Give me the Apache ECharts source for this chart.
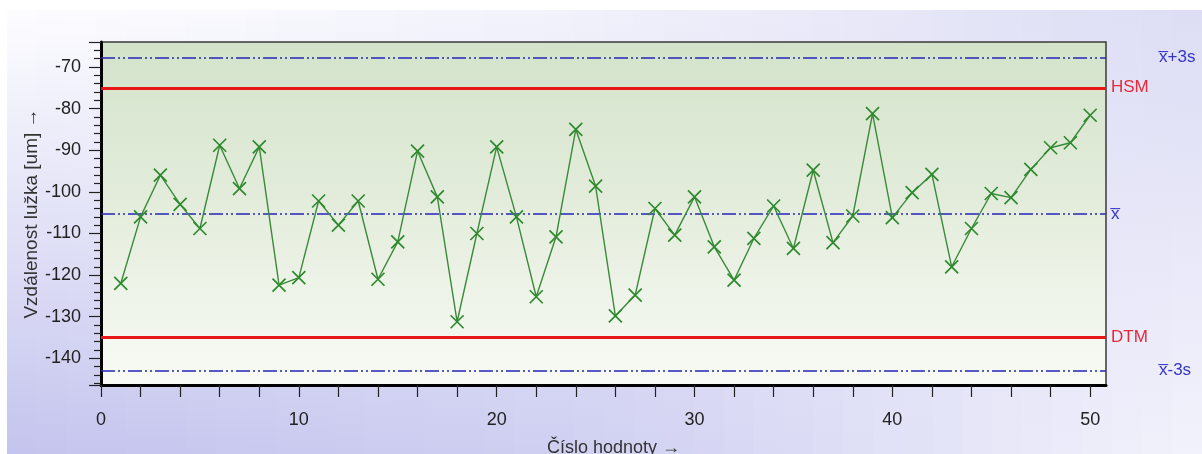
<!DOCTYPE html>
<html>
<head>
<meta charset="utf-8">
<script src="https://cdn.jsdelivr.net/npm/echarts@6/dist/echarts.min.js"></script>
<style>
html,body{margin:0;padding:0;background:#fff;}
#c{width:1202px;height:454px;}
</style>
</head>
<body>
<div id="c"></div>
<script>
// Sample numbers (x axis)
const sampleNumbers = Array.from({length: 50}, (_, i) => i + 1);
// Measured values [um]
const values = [
  -122.0, -106.0, -96.0, -103.0, -108.8, -88.8, -99.2, -89.2, -122.4, -120.6,
  -102.2, -108.0, -102.2, -121.0, -112.0, -90.2, -101.2, -131.2, -110.0, -89.2,
  -106.0, -125.2, -110.8, -85.0, -98.6, -129.8, -124.8, -104.0, -110.4, -101.2,
  -113.2, -121.2, -111.2, -103.4, -113.6, -94.8, -112.2, -105.8, -81.2, -106.2,
  -100.2, -95.8, -118.0, -108.8, -100.4, -101.4, -94.6, -89.4, -88.2, -81.6
];
// Limit lines
const limitNames = ['x\u0305+3s', 'HSM', 'x\u0305', 'DTM', 'x\u0305-3s'];
const limitValues = [-67.7, -75.0, -105.3, -135.0, -142.9];
const limitKinds = ['sigma', 'spec', 'mean', 'spec', 'sigma'];

const FONT = '"Liberation Sans", Arial, sans-serif';
const BLUE = '#2424b8';
const BLUE_TXT = '#3535c8';
const RED = '#e81818';
const RED_TXT = '#e8283c';

// decorative page background: vertical-gradient strips blended across the width
function hex(c) { return [parseInt(c.slice(1,3),16), parseInt(c.slice(3,5),16), parseInt(c.slice(5,7),16)]; }
function mix(a, b, t) { const A = hex(a), B = hex(b); return 'rgb(' + A.map((v, i) => Math.round(v + (B[i] - v) * t)).join(',') + ')'; }
const bgCols = [ // [top, bottom] at left, middle, right
  ['#fdfdff', '#c4c4ee'],
  ['#f1f1fb', '#d0d0f2'],
  ['#dcdcf5', '#f3f3fc']
];
const bgGraphics = [];
const NS = 40, X0 = 7, Y0 = 10, W = 1202 - X0, H = 454 - Y0;
for (let s = 0; s < NS; s++) {
  const t = (s + 0.5) / NS;
  let top, bot;
  if (t < 0.5) { top = mix(bgCols[0][0], bgCols[1][0], t * 2); bot = mix(bgCols[0][1], bgCols[1][1], t * 2); }
  else { top = mix(bgCols[1][0], bgCols[2][0], (t - 0.5) * 2); bot = mix(bgCols[1][1], bgCols[2][1], (t - 0.5) * 2); }
  bgGraphics.push({
    type: 'rect', z: -10, silent: true,
    shape: {x: X0 + Math.floor(s * W / NS), y: Y0, width: Math.ceil(W / NS) + 1, height: H},
    style: {fill: new echarts.graphic.LinearGradient(0, 0, 0, 1, [{offset: 0, color: top}, {offset: 1, color: bot}])}
  });
}

const markData = limitValues.map((v, i) => {
  const k = limitKinds[i];
  const isSpec = k === 'spec';
  return {
    yAxis: v,
    lineStyle: isSpec
      ? {color: RED, width: 3, type: 'solid'}
      : {color: BLUE, width: 1.5, type: [14, 3, 2, 3, 2, 3]},
    label: {
      show: true,
      position: 'end',
      formatter: limitNames[i],
      distance: k === 'sigma' ? 53 : 5,
      color: isSpec ? RED_TXT : BLUE_TXT,
      fontFamily: FONT,
      fontSize: 17
    }
  };
});

const chart = echarts.init(document.getElementById('c'), null, {renderer: 'canvas'});
chart.setOption({
  animation: false,
  backgroundColor: '#ffffff',
  graphic: bgGraphics,
  grid: {
    left: 101, right: 96, top: 42, bottom: 69,
    containLabel: false,
    outerBoundsMode: 'none',
    show: true,
    borderColor: '#3a3a3a',
    borderWidth: 1.5,
    backgroundColor: new echarts.graphic.LinearGradient(0, 0, 0, 1, [
      {offset: 0, color: '#d3e3ca'},
      {offset: 0.45, color: '#e3ecdb'},
      {offset: 1, color: '#f8fbf5'}
    ])
  },
  xAxis: {
    type: 'value',
    min: 0,
    max: 50.8,
    interval: 2,
    name: 'Číslo hodnoty \u2192',
    nameLocation: 'middle',
    nameGap: 54,
    nameTextStyle: {fontFamily: FONT, fontSize: 18, color: '#333', padding: [0, 0, 0, 20]},
    axisLine: {show: true, onZero: false, lineStyle: {color: '#000', width: 3}},
    axisTick: {show: true, inside: false, length: 12, lineStyle: {color: '#222', width: 1.2}},
    axisLabel: {
      fontFamily: FONT, fontSize: 18, color: '#222', margin: 26,
      showMaxLabel: false,
      formatter: v => (Math.abs(v % 10) < 1e-6 ? String(v) : '')
    },
    splitLine: {show: false}
  },
  yAxis: {
    type: 'value',
    min: -146.4,
    max: -64.0,
    splitNumber: 8,
    minInterval: 10,
    maxInterval: 10,
    name: 'Vzdálenost lužka [um] \u2192',
    nameLocation: 'middle',
    nameGap: 60,
    nameMoveOverlap: false,
    nameTextStyle: {fontFamily: FONT, fontSize: 19, color: '#333'},
    axisLine: {show: true, onZero: false, lineStyle: {color: '#000', width: 3}},
    axisTick: {show: true, inside: false, length: 12, lineStyle: {color: '#222', width: 1.2}},
    minorTick: {show: true, splitNumber: 5, length: 7, lineStyle: {color: '#222', width: 1.2}},
    axisLabel: {
      fontFamily: FONT, fontSize: 18, color: '#222', margin: 20,
      showMinLabel: false, showMaxLabel: false
    },
    splitLine: {show: false},
    minorSplitLine: {show: false}
  },
  series: [{
    type: 'line',
    data: sampleNumbers.map((n, i) => [n, values[i]]),
    symbol: 'path://M0,0L10,10M10,0L0,10',
    symbolSize: 13,
    showAllSymbol: true,
    lineStyle: {color: '#3a8a3a', width: 1.4},
    itemStyle: {color: 'rgba(0,0,0,0)', borderColor: '#2e8a2e', borderWidth: 1.7},
    z: 5,
    markLine: {
      silent: true,
      symbol: ['none', 'none'],
      animation: false,
      data: markData
    }
  }]
});
</script>
</body>
</html>
